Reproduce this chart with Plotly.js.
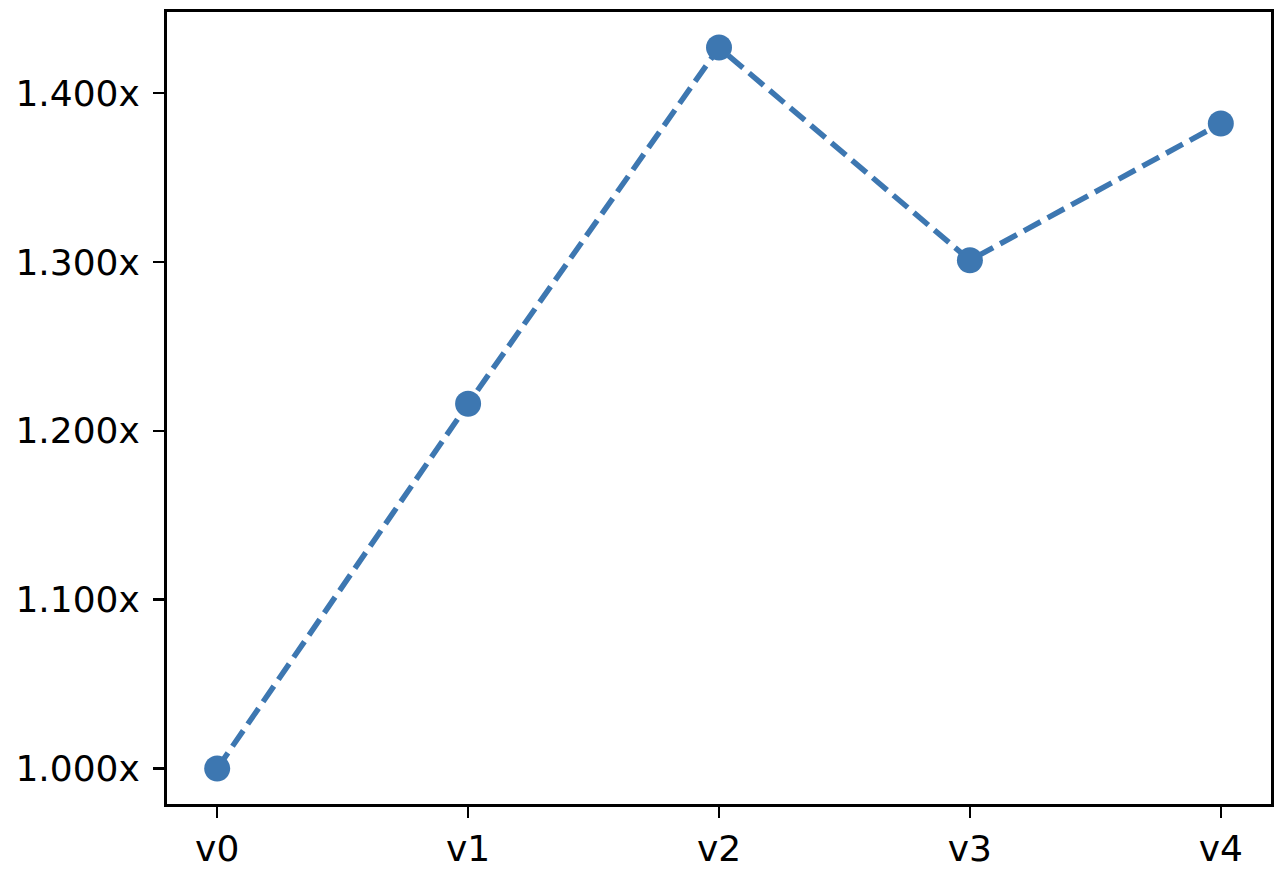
<!DOCTYPE html>
<html>
<head>
<meta charset="utf-8">
<script src="https://cdn.plot.ly/plotly-3.0.1.min.js"></script>
<style>html,body{margin:0;padding:0;background:#fff;}#chart{width:1280px;height:882px;}</style>
</head>
<body>
<div id="chart"></div>
<script>
const categories = ["v0", "v1", "v2", "v3", "v4"];
const speedup = [1.000, 1.216, 1.427, 1.301, 1.382];
const yTickVals = [1.0, 1.1, 1.2, 1.3, 1.4];
const yTickText = ["1.000x", "1.100x", "1.200x", "1.300x", "1.400x"];

const trace = {
  x: categories,
  y: speedup,
  type: "scatter",
  mode: "lines+markers",
  line: {color: "#3d77b1", width: 5.5, dash: "19px,8px"},
  marker: {color: "#3d77b1", size: 26},
  cliponaxis: false,
  hoverinfo: "skip"
};

const axisCommon = {
  showline: true, linecolor: "#000", linewidth: 3, mirror: true,
  ticks: "outside", ticklen: 11, tickwidth: 2.5, tickcolor: "#000",
  showgrid: false, zeroline: false,
  tickfont: {family: "DejaVu Sans", size: 36, color: "#000"}
};

const layout = {
  width: 1280, height: 882,
  margin: {l: 167, r: 9, t: 12, b: 78},
  paper_bgcolor: "#fff", plot_bgcolor: "#fff",
  showlegend: false,
  xaxis: Object.assign({}, axisCommon, {type: "category", range: [-0.2, 4.2]}),
  yaxis: Object.assign({}, axisCommon, {range: [0.979, 1.448], tickvals: yTickVals, ticktext: yTickText, ticklabelstandoff: 6})
};

Plotly.newPlot("chart", [trace], layout, {staticPlot: true});
</script>
</body>
</html>
